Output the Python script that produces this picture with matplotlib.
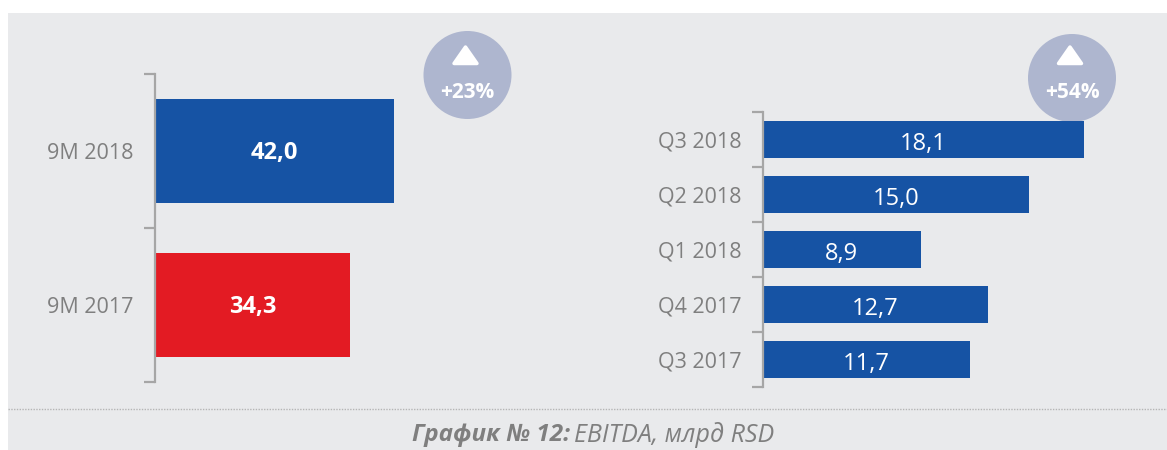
import matplotlib
matplotlib.use('Agg')
import matplotlib.pyplot as plt
from matplotlib.patches import Rectangle, Circle, Polygon

left_labels = ['9M 2018', '9M 2017']
left_values = [42.0, 34.3]
left_text = ['42,0', '34,3']
left_colors = ['#1653a4', '#e31b23']

right_labels = ['Q3 2018', 'Q2 2018', 'Q1 2018', 'Q4 2017', 'Q3 2017']
right_values = [18.1, 15.0, 8.9, 12.7, 11.7]
right_text = ['18,1', '15,0', '8,9', '12,7', '11,7']

W, H = 1167, 450
plt.rcParams['font.family'] = ['Open Sans', 'DejaVu Sans']
GREY = '#7f7f7f'
SPINE = '#a6a6a6'

fig = plt.figure(figsize=(W / 100, H / 100), dpi=100, facecolor='white')

# background layer in pixel coordinates
bg = fig.add_axes([0, 0, 1, 1])
bg.set_xlim(0, W)
bg.set_ylim(H, 0)
bg.axis('off')
bg.add_patch(Rectangle((8, 13), W - 8, H - 13, fc='#e9eaec', ec='none'))
bg.plot([8, W], [408.5, 408.5], color='#b5b5b5', lw=1, ls=(0, (1, 1)))
bg.text(570, 435, 'График № 12:', color=GREY, fontsize=17.5, fontweight='bold',
        fontstyle='italic', ha='right', va='center')
bg.text(574, 435, 'EBITDA, млрд RSD', color=GREY, fontsize=18,
        fontstyle='italic', ha='left', va='center')


def pixel_axes(x0, x1, y0, y1):
    ax = fig.add_axes([x0 / W, 1 - y1 / H, (x1 - x0) / W, (y1 - y0) / H])
    ax.patch.set_alpha(0)
    return ax


def bar_panel(ax, labels, values, texts, colors, xmax, fsize, weight, pad, drop):
    n = len(values)
    pos = list(range(n))
    ax.barh(pos, values, height=0.67, color=colors, left=0)
    ax.set_ylim(n - 0.5, -0.5)
    ax.set_xlim(0, xmax)
    ax.set_yticks([p - 0.5 for p in pos] + [n - 0.5])
    ax.set_yticklabels([])
    ax.set_yticks(pos, labels, minor=True)
    ax.tick_params(axis='y', which='major', length=8, width=1.6, color=SPINE)
    ax.tick_params(axis='y', which='minor', length=0, pad=pad, labelsize=15.5, labelcolor=GREY)
    ax.xaxis.set_visible(False)
    for s in ['top', 'right', 'bottom']:
        ax.spines[s].set_visible(False)
    ax.spines['left'].set_color(SPINE)
    ax.spines['left'].set_linewidth(1.6)
    for p, v, t in zip(pos, values, texts):
        ax.annotate(t, (v / 2, p), xytext=(0, -drop), textcoords='offset points', color='white',
                    fontsize=fsize, fontweight=weight, ha='center', va='center')


ax1 = pixel_axes(155, 455, 74, 382)
bar_panel(ax1, left_labels, left_values, left_text, left_colors, 300 / 5.69, 17, 'bold', 15.5, 1.5)

ax2 = pixel_axes(763, 1130, 112, 387)
bar_panel(ax2, right_labels, right_values, right_text, '#1653a4', 367 / 17.73, 17, 'normal', 15.5, 3.5)

# growth badges
for cx, cy, label in [(467.5, 75, '+23%'), (1072, 78, '+54%')]:
    bg.add_patch(Circle((cx, cy), 44, fc='#aeb6cf', ec='none', zorder=5))
    bg.add_patch(Polygon([(cx - 13.5, 63.5), (cx + 9.5, 63.5), (cx - 2, 47)], closed=True,
                         fc='white', ec='white', lw=2.5, joinstyle='round', zorder=6))
    bg.text(cx, 92, label, color='white', fontsize=15, fontweight='bold',
            ha='center', va='center', zorder=6)

fig.savefig('out.png', dpi=100, facecolor='white')
